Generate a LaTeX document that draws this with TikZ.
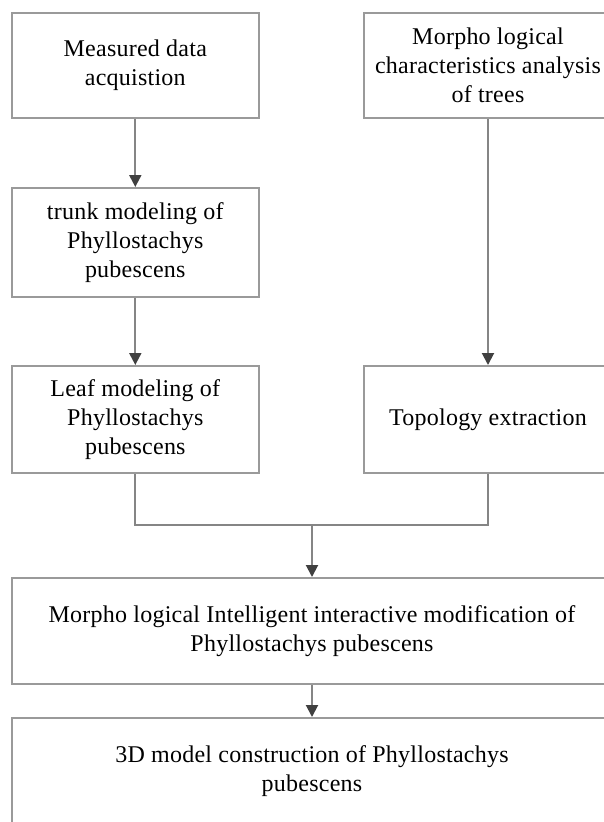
\documentclass[tikz,border=0pt]{standalone}
\usepackage{fontspec}
\setmainfont[LetterSpace=1]{Liberation Serif}
\usetikzlibrary{arrows.meta}
\definecolor{boxline}{HTML}{9A9A9A}
\definecolor{conline}{HTML}{858585}
\definecolor{tipcol}{HTML}{404040}
\tikzset{
  flowbox/.style={draw=boxline, line width=2pt, fill=white, inner sep=0pt,
    align=center, font=\fontsize{24pt}{29pt}\selectfont, anchor=center},
  conn/.style={draw=conline, line width=2pt},
  arr/.style={conn, -{Triangle[length=12pt,width=12pt,color=tipcol]}}
}
\begin{document}
\begin{tikzpicture}[x=1pt,y=-1pt]
\useasboundingbox (0,0) rectangle (604,822);
\begin{scope}
\clip (0,0) rectangle (604,822);
\node[flowbox, minimum width=247pt, minimum height=105pt] (a) at (135.3,65.5) {Measured data\\acquistion};
\node[flowbox, minimum width=248pt, minimum height=105pt] (b) at (488,65.5) {Morpho logical\\characteristics analysis\\of trees};
\node[flowbox, minimum width=247pt, minimum height=109pt] (c) at (135.3,242.5) {trunk modeling of\\Phyllostachys\\pubescens};
\node[flowbox, minimum width=247pt, minimum height=107pt] (d) at (135.3,419.5) {Leaf modeling of\\Phyllostachys\\pubescens};
\node[flowbox, minimum width=248pt, minimum height=107pt] (e) at (488,419.5) {Topology extraction};
\node[flowbox, minimum width=601pt, minimum height=106pt] (f) at (312,631) {Morpho logical Intelligent interactive modification of\\Phyllostachys pubescens};
\node[flowbox, minimum width=601pt, minimum height=106pt] (g) at (312,771) {3D model construction of Phyllostachys\\pubescens};
\coordinate (j) at (312,525);
\draw[arr] (a.south) -- (c.north);
\draw[arr] (c.south) -- (d.north);
\draw[arr] (b.south) -- (e.north);
\draw[conn] (d.south) |- (j) -| (e.south);
\draw[arr] (j) -- (f.north);
\draw[arr] (f.south) -- (g.north);
\end{scope}
\end{tikzpicture}
\end{document}
